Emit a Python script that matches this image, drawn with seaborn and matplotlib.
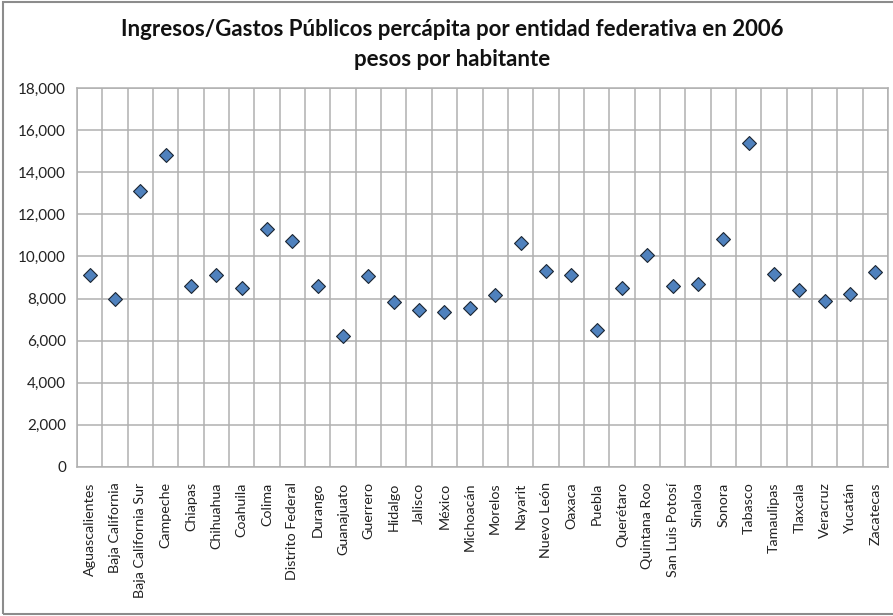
import matplotlib
matplotlib.use("Agg")
import matplotlib.pyplot as plt
import matplotlib.patches as mpatches
from matplotlib.ticker import FuncFormatter, MultipleLocator
import pandas as pd
import seaborn as sns

# Per-capita public revenue/spending by Mexican state, 2006 (pesos per inhabitant)
estados = [
    "Aguascalientes", "Baja California", "Baja California Sur", "Campeche",
    "Chiapas", "Chihuahua", "Coahuila", "Colima", "Distrito Federal",
    "Durango", "Guanajuato", "Guerrero", "Hidalgo", "Jalisco", "México",
    "Michoacán", "Morelos", "Nayarit", "Nuevo León", "Oaxaca", "Puebla",
    "Querétaro", "Quintana Roo", "San Luis Potosí", "Sinaloa", "Sonora",
    "Tabasco", "Tamaulipas", "Tlaxcala", "Veracruz", "Yucatán", "Zacatecas",
]
pesos_por_habitante = [
    9100, 8000, 13100, 14800,
    8600, 9100, 8500, 11300, 10750,
    8600, 6200, 9050, 7850, 7450, 7350,
    7550, 8150, 10650, 9300, 9100, 6500,
    8500, 10050, 8600, 8700, 10850,
    15400, 9150, 8400, 7900, 8200, 9250,
]
titulo = "Ingresos/Gastos Públicos percápita por entidad federativa en 2006"
subtitulo = "pesos por habitante"

df = pd.DataFrame({"estado": estados, "valor": pesos_por_habitante})

sns.set_style("white")
plt.rcParams["font.family"] = ["Lato", "DejaVu Sans"]

W, H = 893, 616
fig = plt.figure(figsize=(W / 100, H / 100), dpi=100)
ax = fig.add_axes([77 / W, 1 - 467 / H, (888 - 77) / W, (467 - 88) / H])

sns.scatterplot(
    data=df, x="estado", y="valor", ax=ax,
    marker="D", s=50, color="#4f81bd", edgecolor="#1c2633", linewidth=0.8,
    zorder=5, legend=False,
)

grid_color = "#b0b0b0"
n = len(estados)
ax.set_xlim(-0.5, n - 0.5)
ax.set_ylim(0, 18000)
ax.yaxis.set_major_locator(MultipleLocator(2000))
ax.yaxis.set_major_formatter(FuncFormatter(lambda v, _: f"{int(v):,}"))

# category boundaries carry the vertical grid and the outward tick marks
ax.set_xticks([i - 0.5 for i in range(n + 1)], minor=True)
ax.set_xticks(range(n))
ax.set_xticklabels(estados, rotation=90, fontsize=10.3, color="#222222")
ax.tick_params(axis="x", which="major", length=0, pad=11)
ax.tick_params(axis="x", which="minor", length=5, width=1.1, color=grid_color, direction="out")
ax.tick_params(axis="y", which="major", length=5, width=1.1, color=grid_color,
               direction="out", labelsize=11, labelcolor="#222222", pad=3)

ax.grid(True, which="minor", axis="x", color=grid_color, linewidth=1.1)
ax.grid(True, which="major", axis="y", color=grid_color, linewidth=1.1)
ax.set_axisbelow(True)
for side in ["left", "right", "top", "bottom"]:
    ax.spines[side].set_color(grid_color)
    ax.spines[side].set_linewidth(1.1)
ax.set_xlabel("")
ax.set_ylabel("")

fig.text(452 / W, 1 - 30 / H, titulo, ha="center", va="center",
         fontsize=16, fontweight="bold", color="#111111")
fig.text(452 / W, 1 - 60 / H, subtitulo, ha="center", va="center",
         fontsize=16, fontweight="bold", color="#111111")

# outer chart frame
fig.patches.append(mpatches.Rectangle(
    (3 / W, 2 / H), 1.2, 1 - 4 / H, transform=fig.transFigure,
    fill=False, edgecolor="#8c8c8c", linewidth=1.5))

fig.savefig("out.png", dpi=100)
